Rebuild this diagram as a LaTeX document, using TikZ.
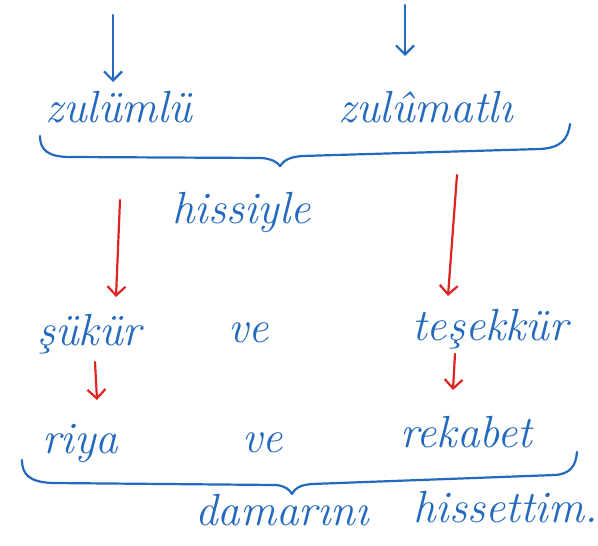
\documentclass[tikz,border=0pt]{standalone}
\usetikzlibrary{arrows.meta}
\definecolor{ink}{RGB}{35,105,190}
\definecolor{redink}{RGB}{222,35,35}
\begin{document}
\begin{tikzpicture}[x=1pt,y=-1pt,
  word/.style={text=ink, font=\fontsize{45}{47}\selectfont\itshape, inner sep=0pt, anchor=base west},
  bluearrow/.style={draw=ink, line width=2.2pt, line cap=round, -{Straight Barb[length=9pt,width=18pt,line width=2.2pt]}},
  redarrow/.style={draw=redink, line width=2.2pt, line cap=round, -{Straight Barb[length=9pt,width=18pt,line width=2.2pt]}},
  bracepath/.style={draw=ink, line width=2.2pt, line cap=round, line join=round}]
\useasboundingbox (0,0) rectangle (598,546);
\fill[white] (0,0) rectangle (598,546);

% words
\node[word] (zl)  at (45,122)  {zulümlü};
\node[word] (zm)  at (338,122) {zulûmatlı};
\node[word] (hs)  at (172,223) {hissiyle};
\node[word] (sk)  at (37,345)  {şükür};
\node[word] (ve1) at (228,342) {ve};
\node[word] (ts)  at (412,340) {teşekkür};
\node[word] (ry)  at (42,453)  {riya};
\node[word] (ve2) at (242,452) {ve};
\node[word] (rk)  at (400,447) {rekabet};
\node[word] (dm)  at (195,525) {damarını};
\node[word] (hst) at (413,522) {hissettim.};

% free ends of the arrows
\coordinate (a1) at (113,15);
\coordinate (a2) at (405,5);
\coordinate (a1e) at (113,82);
\coordinate (a2e) at (405,56);
\coordinate (r1) at (120,200);
\coordinate (r1e) at (116,297);
\coordinate (r2) at (457,175);
\coordinate (r2e) at (448,296);
\coordinate (s1) at (95,362);
\coordinate (s1e) at (97,400);
\coordinate (s2) at (455,354);
\coordinate (s2e) at (453,390);

% blue arrows from the line above
\draw[bluearrow] (a1) -- (a1e);
\draw[bluearrow] (a2) -- (a2e);

% first brace
\coordinate (b1l) at (40,136);
\coordinate (b1t) at (280,166);
\coordinate (b1r) at (570,124);
\draw[bracepath] (b1l) .. controls (40,150) and (48,157) .. (70,157) -- (262,158)
  .. controls (272,159) and (277,162) .. (b1t)
  .. controls (284,160) and (290,157) .. (302,156) -- (540,149)
  .. controls (560,148) and (568,140) .. (b1r);

% red arrows
\draw[redarrow] (r1) -- (r1e);
\draw[redarrow] (r2) -- (r2e);
\draw[redarrow] (s1) -- (s1e);
\draw[redarrow] (s2) -- (s2e);

% second brace
\coordinate (b2l) at (22,460);
\coordinate (b2t) at (292,494);
\coordinate (b2r) at (577,452);
\draw[bracepath] (b2l) .. controls (22,475) and (30,482) .. (52,483) -- (276,485)
  .. controls (285,486) and (289,489) .. (b2t)
  .. controls (295,488) and (300,485) .. (312,484) -- (555,475)
  .. controls (570,474) and (576,466) .. (b2r);
\end{tikzpicture}
\end{document}
